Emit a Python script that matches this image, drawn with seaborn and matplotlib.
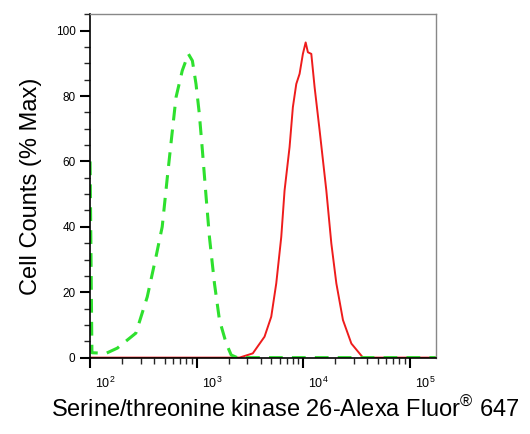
import numpy as np
import pandas as pd
import matplotlib
matplotlib.use('Agg')
import matplotlib.pyplot as plt
import matplotlib.ticker as mticker
import matplotlib.transforms as mtransforms
import seaborn as sns

# isotype control (green, dashed) - intensity vs % max
ctrl_x = [100, 104, 141, 180, 269, 344, 415, 475, 530, 578, 640, 733, 836,
          912, 986, 1059, 1132, 1227, 1318, 1469, 1637, 1892, 2109, 2400,
          20000, 175000]
ctrl_y = [60, 1.5, 1.3, 2.9, 7.5, 18.6, 30.8, 40, 55, 66.4, 79.6, 87.8, 92.9,
          90.8, 83.7, 74.6, 63.4, 49.1, 36.9, 22.7, 11.5, 4.4, 0.8, 0,
          0, 0]

# stained sample (red, solid)
stain_x = [100, 2523, 3365, 4335, 5012, 5585, 6223, 6683, 7447, 7998, 8610,
           9247, 9931, 10544, 11066, 11912, 12794, 14256, 16482, 18365,
           20464, 23605, 28314, 36392, 175000]
stain_y = [0, 0, 1.3, 6.4, 12.5, 22.7, 36.9, 51.1, 64.4, 76.6, 83.7,
           86.8, 92.9, 96.4, 93.4, 92.9, 82.7, 69.5, 51.1, 34.9,
           22.7, 11.5, 4.3, 0, 0]

xlabel = 'Serine/threonine kinase 26-Alexa Fluor$^{\\circledR}$ 647'
ylabel = 'Cell Counts (% Max)'

sns.set_style('ticks')
plt.rcParams['font.family'] = ['Liberation Sans', 'DejaVu Sans']
plt.rcParams['mathtext.fontset'] = 'custom'
plt.rcParams['mathtext.rm'] = 'Liberation Sans'
plt.rcParams['mathtext.it'] = 'Liberation Sans'

fig = plt.figure(figsize=(5.3, 4.34), dpi=100)
ax = fig.add_axes([0.170, 0.176, 0.652, 0.791])

ctrl = pd.DataFrame({'x': ctrl_x, 'y': ctrl_y})
stain = pd.DataFrame({'x': stain_x, 'y': stain_y})

sns.lineplot(data=stain, x='x', y='y', ax=ax, color='#ee1c1c', lw=1.4,
             estimator=None, sort=False)
sns.lineplot(data=ctrl, x='x', y='y', ax=ax, color='#2ee02e', lw=2.2,
             estimator=None, sort=False, dashes=False)
ax.lines[-1].set_dashes((4.5, 3))

ax.set_xscale('log')
ax.set_xlim(100, 175000)
ax.set_ylim(0, 105)

ax.xaxis.set_major_locator(mticker.FixedLocator([1e2, 1e3, 1e4, 1e5]))
ax.xaxis.set_major_formatter(mticker.FuncFormatter(
    lambda v, p: '$10^{%d}$' % round(np.log10(v))))
ax.xaxis.set_minor_locator(mticker.LogLocator(base=10, subs=np.arange(2, 10)))
ax.xaxis.set_minor_formatter(mticker.NullFormatter())
ax.yaxis.set_major_locator(mticker.MultipleLocator(20))
ax.yaxis.set_minor_locator(mticker.MultipleLocator(5))

ax.tick_params(axis='both', which='major', direction='out', length=7,
               width=1.5, colors='black')
ax.tick_params(axis='y', which='major', labelsize=8.5)
ax.tick_params(axis='x', which='major', labelsize=9, pad=6)
ax.tick_params(axis='both', which='minor', direction='out', length=4,
               width=1)
shift = mtransforms.ScaledTranslation(5 / 100, 0, fig.dpi_scale_trans)
for lab in ax.get_xticklabels():
    lab.set_horizontalalignment('left')
    lab.set_transform(lab.get_transform() + shift)

for side in ['top', 'right']:
    ax.spines[side].set_color('#888888')
    ax.spines[side].set_linewidth(1)
for side in ['left', 'bottom']:
    ax.spines[side].set_color('black')
    ax.spines[side].set_linewidth(1.2)

ax.set_xlabel(xlabel, fontsize=17, color='black')
ax.set_ylabel(ylabel, fontsize=17, color='black')
ax.xaxis.set_label_coords(0.565, -0.115)
ax.yaxis.set_label_coords(-0.14, 0.5)

fig.savefig('out.png', dpi=100)
